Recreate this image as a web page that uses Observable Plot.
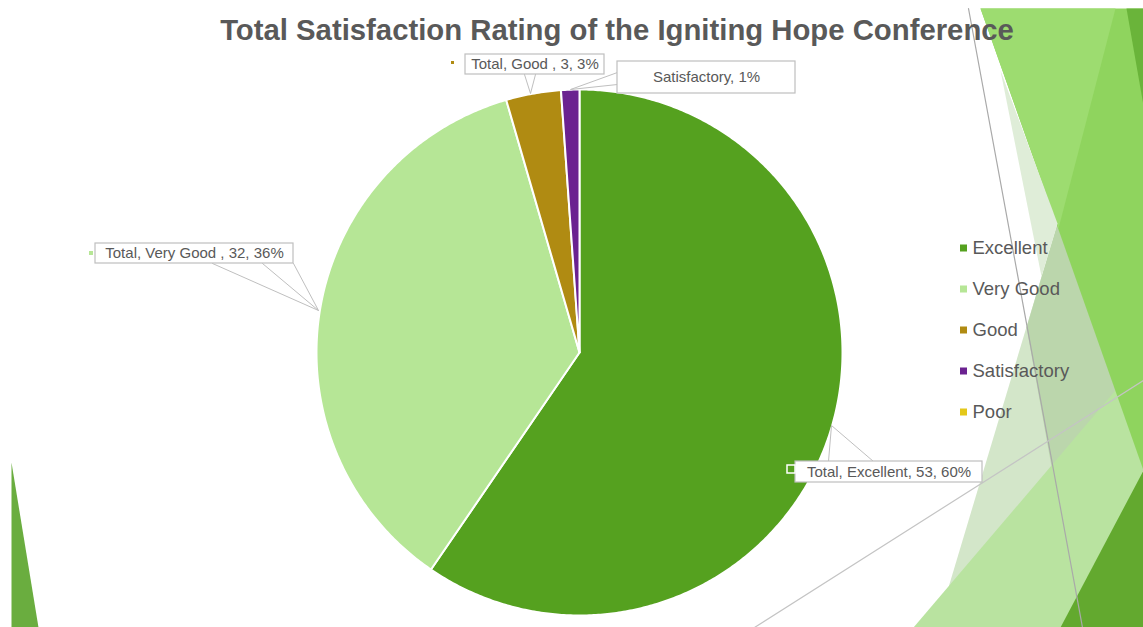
<!DOCTYPE html>
<html>
<head>
<meta charset="utf-8">
<script src="https://cdn.jsdelivr.net/npm/d3@7"></script>
<script src="https://cdn.jsdelivr.net/npm/@observablehq/plot@0.6"></script>
<style>
  html, body { margin: 0; padding: 0; background: #ffffff; }
  #chart { width: 1143px; height: 627px; overflow: hidden; }
</style>
</head>
<body>
<div id="chart"></div>
<script>
// ---------------- data ----------------
const categories = ["Excellent", "Very Good", "Good", "Satisfactory", "Poor"];
const counts = [53, 32, 3, 1, 0];
const dataLabels = ["Total, Excellent, 53, 60%", "Total, Very Good , 32, 36%", "Total, Good , 3, 3%", "Satisfactory, 1%"];
const titleText = "Total Satisfaction Rating of the Igniting Hope Conference";

// ---------------- styles / layout ----------------
const colors = ["#55A11F", "#B6E696", "#B08B12", "#6B2290", "#E4C81A"];
const textColor = "#595959";
const FONT = "Liberation Sans, Arial, sans-serif";
const W = 1143, H = 627;
const PIE = {cx: 579, cy: 352, r: 263};
const X = d3.scaleLinear([-1, 1], [PIE.cx - PIE.r, PIE.cx + PIE.r]);
const Y = d3.scaleLinear([-1, 1], [PIE.cy + PIE.r, PIE.cy - PIE.r]);
const pt = ([x, y]) => ({x: X.invert(x), y: Y.invert(y)});

// decorative background (slide theme), pixel layout
const decor = [
  {fill: "#6AAD3F", pts: [[11,462],[11,627],[38,627]]},
  {fill: "#D3E6C9", pts: [[1057,223],[1143,465],[1143,627],[936,627]]},
  {fill: "#BBD6AC", pts: [[1057,223],[1143,465],[1143,627],[1080,627],[1026,327]]},
  {fill: "#B9E3A0", pts: [[913,627],[1143,357],[1143,627]]},
  {fill: "#8FD45E", pts: [[980,8],[1143,8],[1143,470]]},
  {fill: "#9DDC70", pts: [[980,8],[1115,8],[1058,228]]},
  {fill: "#6AB43A", pts: [[1126,8],[1143,8],[1143,105]]},
  {fill: "#DFEDD8", pts: [[1000,70],[1057,223],[1041,276]]},
  {fill: "#63A92F", pts: [[1143,470],[1143,627],[1060,627]]}
];
const decorLines = [
  {stroke: "#A9A9A9", pts: [[968,8],[1082,627]]},
  {stroke: "#C4C4C4", pts: [[754,627],[1143,380]]}
];

// callouts: box [x1,y1,x2,y2], pointer polygon, key square
const callouts = [
  {box: [795,461,982,482], ptr: [[828,461],[831,425],[873,461]], key: [787,465,795,473], keyFill: colors[0], keyStroke: "white"},
  {box: [95,243,293,263], ptr: [[212,263],[318,310],[293,263]], extra: [[262,263],[318,310]], key: [89,251,93,255], keyFill: colors[1]},
  {box: [465,54,604,74], ptr: [[524,74],[530,93],[535,74]], key: [451,61,454,64], keyFill: colors[2]},
  {box: [617,61,795,93], ptr: [[617,72],[570,89],[617,84]]}
];

const legendLayout = {sqX: 960, sq: 7, textX: 972, y0: 248, dy: 41, fontSize: 18.5};

// ---------------- pie geometry from data ----------------
const arcs = d3.pie().sort(null).value(d => d)(counts);
const slices = [];
arcs.forEach((a, i) => {
  if (a.endAngle - a.startAngle <= 0) return;
  const n = Math.max(2, Math.ceil((a.endAngle - a.startAngle) / (Math.PI / 360)));
  slices.push({cat: categories[i], x: 0, y: 0});
  for (let k = 0; k <= n; k++) {
    const t = a.startAngle + (a.endAngle - a.startAngle) * k / n;
    slices.push({cat: categories[i], x: Math.sin(t), y: Math.cos(t)});
  }
  slices.push({cat: categories[i], x: 0, y: 0});
});

// ---------------- marks ----------------
const marks = [];
decor.forEach(d => marks.push(Plot.line(d.pts.map(pt), {x: "x", y: "y", fill: d.fill, stroke: "none"})));
decorLines.forEach(d => marks.push(Plot.line(d.pts.map(pt), {x: "x", y: "y", stroke: d.stroke, strokeWidth: 1.2})));

marks.push(Plot.line(slices, {x: "x", y: "y", z: "cat", fill: "cat", stroke: "white", strokeWidth: 2, strokeLinejoin: "round"}));

callouts.forEach((c, i) => {
  marks.push(Plot.line(c.ptr.map(pt), {x: "x", y: "y", fill: "white", stroke: "#BFBFBF", strokeWidth: 1}));
  if (c.extra) marks.push(Plot.line(c.extra.map(pt), {x: "x", y: "y", stroke: "#BFBFBF", strokeWidth: 1}));
  const [x1, y1, x2, y2] = c.box;
  marks.push(Plot.rect([{x1: X.invert(x1), x2: X.invert(x2), y1: Y.invert(y1), y2: Y.invert(y2)}],
    {x1: "x1", x2: "x2", y1: "y1", y2: "y2", fill: "white", stroke: "#BFBFBF", strokeWidth: 1.2}));
  if (c.key) {
    const [k1, k2, k3, k4] = c.key;
    marks.push(Plot.rect([{x1: X.invert(k1), x2: X.invert(k3), y1: Y.invert(k2), y2: Y.invert(k4)}],
      {x1: "x1", x2: "x2", y1: "y1", y2: "y2", fill: c.keyFill, stroke: c.keyStroke || "none", strokeWidth: 1.5}));
  }
  marks.push(Plot.text([dataLabels[i]], {
    x: X.invert((x1 + x2) / 2), y: Y.invert((y1 + y2) / 2), text: d => d,
    fontSize: 15, fill: textColor, fontFamily: FONT, textAnchor: "middle"
  }));
});

// legend
const L = legendLayout;
const legendData = categories.map((c, i) => ({cat: c, yc: L.y0 + i * L.dy}));
marks.push(Plot.rect(legendData, {
  x1: () => X.invert(L.sqX), x2: () => X.invert(L.sqX + L.sq),
  y1: d => Y.invert(d.yc - L.sq / 2), y2: d => Y.invert(d.yc + L.sq / 2),
  fill: "cat"
}));
marks.push(Plot.text(legendData, {
  x: () => X.invert(L.textX), y: d => Y.invert(d.yc), text: "cat",
  textAnchor: "start", fontSize: L.fontSize, fill: textColor, fontFamily: FONT
}));

// title
marks.push(Plot.text([titleText], {
  x: X.invert(616.5), y: Y.invert(30), text: d => d,
  fontSize: 29.3, fontWeight: "bold", fill: textColor, fontFamily: FONT, textAnchor: "middle"
}));

const chart = Plot.plot({
  width: W, height: H,
  marginTop: 0, marginRight: 0, marginBottom: 0, marginLeft: 0,
  x: {domain: X.domain(), range: X.range(), axis: null},
  y: {domain: Y.domain(), range: Y.range(), axis: null},
  color: {domain: categories, range: colors},
  style: {background: "white", fontFamily: FONT},
  marks
});
document.getElementById("chart").appendChild(chart);
</script>
</body>
</html>
